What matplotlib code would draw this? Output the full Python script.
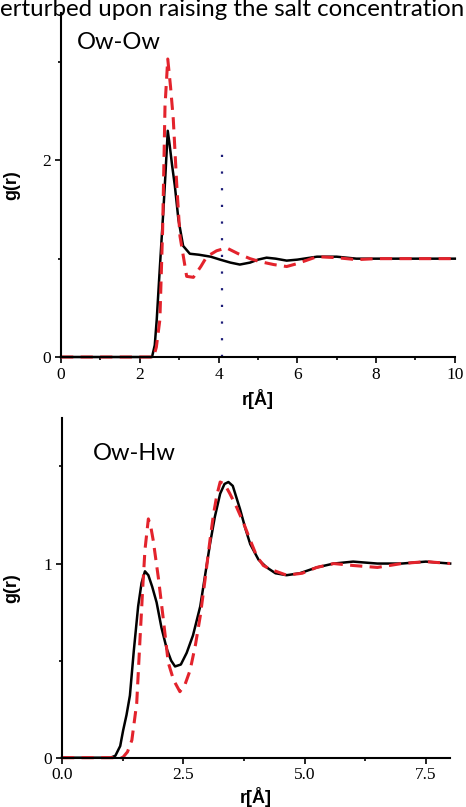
import numpy as np
import matplotlib
matplotlib.use("Agg")
import matplotlib.pyplot as plt
from matplotlib.ticker import MultipleLocator

# Ow-Ow radial distribution (top panel)
r_oo_pure = [0, 2.2, 2.31, 2.38, 2.43, 2.5, 2.6, 2.65, 2.71, 2.76, 2.82, 2.89, 2.98,
             3.1, 3.27, 3.5, 3.8, 4.04, 4.3, 4.54, 4.8, 5.0, 5.22, 5.45, 5.73, 6.0,
             6.5, 7.0, 7.5, 8.0, 9.0, 10.0]
g_oo_pure = [0, 0, 0.0, 0.12, 0.38, 0.85, 1.5, 1.85, 2.30, 2.15, 1.95, 1.74, 1.40,
             1.13, 1.05, 1.04, 1.02, 0.99, 0.96, 0.94, 0.96, 0.99, 1.01, 1.00, 0.98, 0.99,
             1.02, 1.02, 1.00, 1.00, 1.00, 1.00]

r_oo_salt = [0, 2.35, 2.42, 2.51, 2.58, 2.64, 2.71, 2.78, 2.85, 2.94, 3.02, 3.19, 3.36,
             3.55, 3.70, 3.95, 4.2, 4.5, 4.8, 5.05, 5.4, 5.73, 6.0, 6.5, 7.0, 7.5,
             8.0, 9.0, 10.0]
g_oo_salt = [0, 0, 0.1, 0.38, 1.3, 2.55, 3.03, 2.75, 2.42, 1.74, 1.23, 0.82, 0.81,
             0.92, 1.02, 1.08, 1.11, 1.05, 1.00, 0.97, 0.94, 0.92, 0.95, 1.02, 1.01, 0.99,
             1.00, 1.00, 1.00]

r_cut = [4.08, 4.08]
g_cut = [0, 2.16]

# Ow-Hw radial distribution (bottom panel)
r_oh_pure = [0, 1.0, 1.1, 1.2, 1.26, 1.33, 1.40, 1.48, 1.57, 1.64, 1.71, 1.78, 1.86,
             1.95, 2.05, 2.16, 2.25, 2.33, 2.45, 2.57, 2.7, 2.85, 2.95, 3.05, 3.15,
             3.26, 3.35, 3.43, 3.52, 3.67, 3.78, 3.88, 4.05, 4.22, 4.4, 4.63, 4.9,
             5.25, 5.6, 6.0, 6.5, 7.0, 7.5, 8.0]
g_oh_pure = [0, 0, 0.01, 0.06, 0.14, 0.22, 0.32, 0.55, 0.78, 0.90, 0.96, 0.94, 0.88,
             0.80, 0.67, 0.56, 0.50, 0.47, 0.48, 0.54, 0.63, 0.78, 0.94, 1.10, 1.24,
             1.36, 1.41, 1.42, 1.40, 1.28, 1.18, 1.10, 1.02, 0.98, 0.95, 0.94, 0.95,
             0.98, 1.00, 1.01, 1.00, 1.00, 1.01, 1.00]

r_oh_salt = [0, 1.25, 1.35, 1.44, 1.54, 1.61, 1.67, 1.71, 1.78, 1.83, 1.88, 1.99,
             2.09, 2.19, 2.30, 2.43, 2.54, 2.64, 2.75, 2.85, 2.95, 3.05, 3.12, 3.19,
             3.26, 3.35, 3.46, 3.6, 3.74, 3.88, 4.01, 4.15, 4.3, 4.63, 4.95, 5.25,
             5.6, 6.0, 6.5, 7.0, 7.5, 8.0]
g_oh_salt = [0, 0, 0.03, 0.09, 0.28, 0.62, 0.9, 1.07, 1.23, 1.19, 1.12, 0.92,
             0.71, 0.49, 0.40, 0.34, 0.38, 0.45, 0.58, 0.73, 0.92, 1.12, 1.25, 1.35,
             1.42, 1.41, 1.36, 1.29, 1.21, 1.12, 1.04, 0.99, 0.97, 0.94, 0.95, 0.98,
             1.00, 0.99, 0.98, 1.00, 1.01, 1.00]

red = "#e3232c"
dash = (0, (4, 2.4))

fig = plt.figure(figsize=(4.66, 8.07), dpi=100)

fig.text(0.0, 1 - 16 / 807, "erturbed upon raising the salt concentration",
         family="Lato", fontsize=17.3, ha="left", va="baseline")

ax1 = fig.add_axes([0.131, 0.5576, 0.845, 0.4266])
ax2 = fig.add_axes([0.133, 0.0611, 0.833, 0.421])

ax1.plot(r_cut, g_cut, color="#1c1c78", lw=1.6, linestyle=(0, (1, 6.5)))
ax1.plot(r_oo_pure, g_oo_pure, color="black", lw=1.8)
ax1.plot(r_oo_salt, g_oo_salt, color=red, lw=2.2, linestyle=dash)
ax1.set_xlim(0, 10)
ax1.set_ylim(0, 3.5)
ax1.xaxis.set_major_locator(MultipleLocator(2))
ax1.xaxis.set_minor_locator(MultipleLocator(1))
ax1.yaxis.set_major_locator(MultipleLocator(2))
ax1.yaxis.set_minor_locator(MultipleLocator(1))
ax1.text(0.041, 0.945, "Ow-Ow", transform=ax1.transAxes, family="Lato",
         fontsize=17, va="top")
ax1.yaxis.set_label_coords(-0.104, 0.532)
ax1.xaxis.set_label_coords(0.5, -0.093)

ax2.plot(r_oh_pure, g_oh_pure, color="black", lw=1.8)
ax2.plot(r_oh_salt, g_oh_salt, color=red, lw=2.2, linestyle=dash)
ax2.set_xlim(0, 8)
ax2.set_ylim(0, 1.75)
ax2.xaxis.set_major_locator(MultipleLocator(2.5))
ax2.xaxis.set_minor_locator(MultipleLocator(1.25))
ax2.yaxis.set_major_locator(MultipleLocator(1))
ax2.yaxis.set_minor_locator(MultipleLocator(0.5))
ax2.xaxis.set_major_formatter(plt.FormatStrFormatter("%.1f"))
ax2.text(0.08, 0.925, "Ow-Hw", transform=ax2.transAxes, family="Lato",
         fontsize=17, va="top")
ax2.yaxis.set_label_coords(-0.108, 0.553)
ax2.xaxis.set_label_coords(0.5, -0.085)

for ax in (ax1, ax2):
    for s in ("top", "right"):
        ax.spines[s].set_visible(False)
    for s in ("left", "bottom"):
        ax.spines[s].set_linewidth(1.5)
    ax.tick_params(which="both", direction="out", width=1.2)
    ax.tick_params(which="major", length=4.5, labelsize=12.5, pad=2.5)
    ax.tick_params(which="minor", length=2.5)
    for lab in ax.get_xticklabels() + ax.get_yticklabels():
        lab.set_family("Liberation Serif")
    ax.set_xlabel("r[Å]", family="Liberation Sans", fontweight="bold",
                  fontsize=13)
    ax.set_ylabel("g(r)", family="Liberation Sans", fontweight="bold",
                  fontsize=13)
    for line in ax.lines:
        line.set_clip_on(False)

fig.savefig("out.png", dpi=100)
